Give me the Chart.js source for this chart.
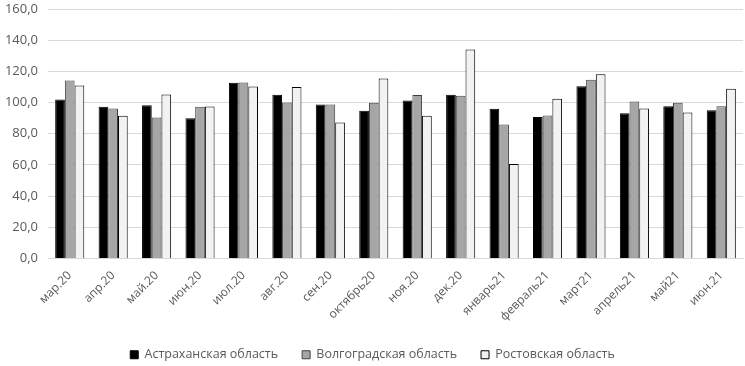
<!DOCTYPE html>
<html>
<head>
<meta charset="utf-8">
<script src="https://cdn.jsdelivr.net/npm/chart.js@4.4.0/dist/chart.umd.min.js"></script>
<style>
  html, body { margin: 0; padding: 0; background: #fff; }
  #wrap { width: 745px; height: 366px; }
</style>
</head>
<body>
<div id="wrap"><canvas id="chart" width="745" height="366"></canvas></div>
<script>
const months = ["мар.20","апр.20","май.20","июн.20","июл.20","авг.20","сен.20","октябрь20",
  "ноя.20","дек.20","январь21","февраль21","март21","апрель21","май21","июн.21"];
const astrakhan = [102.0, 97.3, 98.3, 90.0, 112.7, 105.0, 98.8, 94.7, 101.3, 105.0, 96.0, 90.8, 110.5, 93.2, 97.7, 95.1];
const volgograd = [114.2, 96.2, 90.4, 97.3, 112.9, 100.0, 98.8, 99.8, 104.8, 104.4, 85.9, 91.7, 114.6, 100.7, 99.8, 97.7];
const rostov = [111.0, 91.5, 105.2, 97.5, 110.3, 110.0, 87.2, 115.5, 91.5, 134.1, 60.6, 102.4, 118.1, 96.2, 93.6, 108.8];
const seriesNames = ["Астраханская область", "Волгоградская область", "Ростовская область"];

const font = "'Open Sans', 'Liberation Sans', sans-serif";
const textColor = "#595959";

new Chart(document.getElementById("chart"), {
  type: "bar",
  data: {
    labels: months,
    datasets: [
      { label: seriesNames[0], data: astrakhan, backgroundColor: "#000000", borderColor: "#000000", borderWidth: 1 },
      { label: seriesNames[1], data: volgograd, backgroundColor: "#a6a6a6", borderColor: "#404040", borderWidth: 1 },
      { label: seriesNames[2], data: rostov, backgroundColor: "#f2f2f2", borderColor: "#000000", borderWidth: 1 }
    ]
  },
  options: {
    responsive: false,
    animation: false,
    layout: { padding: { top: 9, right: 2, left: 2, bottom: -5 } },
    datasets: { bar: { categoryPercentage: 0.67, barPercentage: 1.0 } },
    plugins: {
      tooltip: { enabled: false },
      legend: {
        position: "bottom",
        labels: {
          font: { family: font, size: 12.5 },
          color: textColor,
          boxWidth: 8,
          boxHeight: 8,
          padding: 24
        }
      }
    },
    scales: {
      x: {
        grid: { display: false },
        border: { color: "#d9d9d9" },
        ticks: {
          color: textColor,
          font: { family: font, size: 12 },
          minRotation: 45,
          maxRotation: 45,
          autoSkip: false,
          padding: 2
        },
        afterFit: s => { s.height = 66; s.paddingLeft = 0; s.paddingRight = 0; }
      },
      y: {
        min: 0,
        max: 160,
        grid: { color: "#d9d9d9", drawTicks: false },
        border: { display: false },
        ticks: {
          stepSize: 20,
          color: textColor,
          font: { family: font, size: 13 },
          padding: 10,
          callback: v => v.toFixed(1).replace(".", ",")
        },
        afterFit: s => { s.width = 46; s.paddingTop = 0; s.paddingBottom = 0; }
      }
    }
  }
});
</script>
</body>
</html>
